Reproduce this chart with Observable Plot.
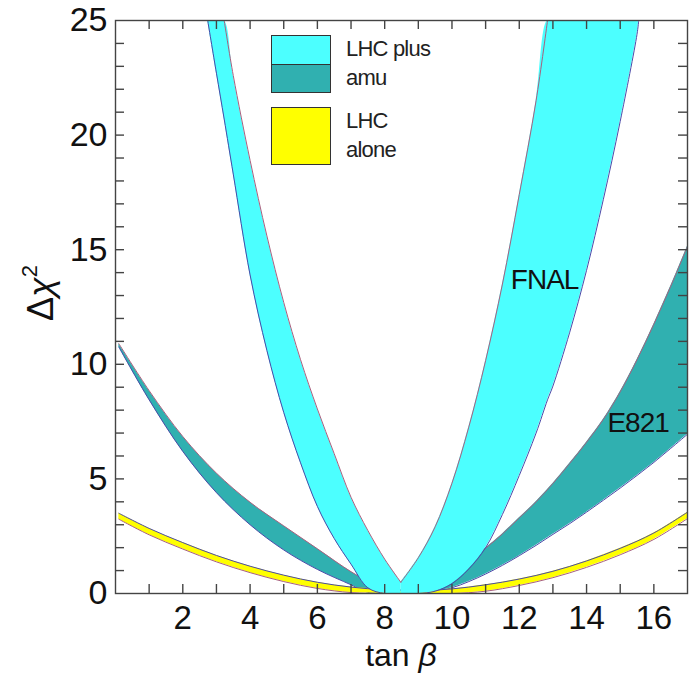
<!DOCTYPE html>
<html><head><meta charset="utf-8">
<script src="https://cdn.jsdelivr.net/npm/d3@7"></script>
<script src="https://cdn.jsdelivr.net/npm/@observablehq/plot@0.6"></script>
<style>
body{margin:0;background:#fff;}
#wrap{position:relative;width:696px;height:677px;font-family:"Liberation Sans",Arial,Helvetica,sans-serif;color:#111;}
.ov{position:absolute;white-space:nowrap;line-height:1;}
.box{position:absolute;box-sizing:border-box;border:1.5px solid #333;}
.lg{position:absolute;font-size:22px;letter-spacing:-0.8px;line-height:1;color:#222;white-space:nowrap;}
</style></head><body><div id="wrap"></div>
<script>
// ---- data ----
// LHC alone (yellow band)
const yellowX  = [0.1, 1, 2, 3, 4, 5, 6, 7, 8, 9, 10, 11, 12, 13, 14, 15, 16, 17];
const yellowLo = [3.24, 2.56, 1.94, 1.38, 0.91, 0.52, 0.22, 0.04, 0, 0, 0, 0.1, 0.35, 0.69, 1.14, 1.69, 2.36, 3.27];
const yellowHi = [3.5, 2.84, 2.22, 1.66, 1.19, 0.8, 0.49, 0.28, 0.16, 0.12, 0.2, 0.38, 0.63, 0.97, 1.42, 1.97, 2.64, 3.55];
// LHC plus amu, E821 (teal band)
const tealX  = [0.1, 1, 2, 3, 4, 5, 6, 7, 7.5, 8, 8.5, 9, 9.5, 10, 10.5, 11, 11.5, 12, 12.5, 13, 13.5, 14, 14.5, 15, 15.5, 16, 16.5, 17];
const tealLo = [10.75, 8.45, 6.2, 4.4, 3.0, 1.9, 1.05, 0.38, 0.05, 0, 0, 0, 0.08, 0.25, 0.52, 0.85, 1.23, 1.65, 2.1, 2.58, 3.05, 3.55, 4.07, 4.6, 5.15, 5.72, 6.33, 6.95];
const tealHi = [10.9, 8.85, 6.85, 5.25, 3.98, 2.95, 1.95, 0.95, 0.55, 0.28, 0.17, 0.25, 0.5, 0.95, 1.45, 1.98, 2.6, 3.3, 4.0, 4.8, 5.68, 6.6, 7.6, 8.8, 10.2, 11.75, 13.4, 15.15];
// LHC plus amu, FNAL (cyan band); 25 = top of the visible range
const cyanX  = [2.74, 3.0, 3.23, 3.5, 4.0, 4.5, 5.0, 5.5, 6.0, 6.5, 7.0, 7.5, 8.0, 8.48, 9.0, 9.5, 10.0, 10.5, 11.0, 11.5, 12.0, 12.5, 12.84, 13.0, 13.5, 14.0, 14.5, 15.0, 15.5, 15.55];
const cyanLo = [25, 22.7, 20.7, 18.3, 13.9, 10.6, 7.9, 5.7, 3.8, 2.4, 1.28, 0.25, 0, 0, 0, 0.1, 0.43, 1.07, 2.0, 3.45, 5.15, 7.0, 8.45, 9.05, 11.4, 14.1, 17.2, 20.6, 24.4, 25];
const cyanHi = [25, 25, 25, 22.6, 18.9, 15.6, 12.7, 10.2, 8.05, 6.1, 4.2, 2.75, 1.5, 0.49, 1.56, 2.91, 4.81, 7.26, 10.16, 13.5, 17.4, 21.5, 25, 25, 25, 25, 25, 25, 25, 25];
// in-plot labels
const annoText = ["FNAL", "E821"];
const annoX = [11.75, 14.62];
const annoY = [13.3, 7.05];
// ticks
const xTickValues = [1, 2, 3, 4, 5, 6, 7, 8, 9, 10, 11, 12, 13, 14, 15, 16];
const xTickLabels = [2, 4, 6, 8, 10, 12, 14, 16];
const yTickValues = [1, 2, 3, 4, 5, 6, 7, 8, 9, 10, 11, 12, 13, 14, 15, 16, 17, 18, 19, 20, 21, 22, 23, 24];
const yTickLabels = [0, 5, 10, 15, 20, 25];

// ---- styles ----
const CYAN = "#4cffff", TEAL = "#30b0b0", YELLOW = "#ffff00";
const PINK = "#a8607e", BLUE = "#4a4aa8", AXIS = "#444";
const curve = "catmull-rom";

const rows = (xs, lo, hi) => xs.map((x, i) => ({x, lo: lo[i], hi: hi[i]}));
const yellow = rows(yellowX, yellowLo, yellowHi);
const teal = rows(tealX, tealLo, tealHi);
// the FNAL band has a sharp V at its minimum: split into two sides sharing that point
const cyanAll = rows(cyanX, cyanLo, cyanHi);
const apex = d3.minIndex(cyanHi);
const cyan = [
  ...cyanAll.slice(0, apex + 1).map(d => ({...d, side: "L"})),
  ...cyanAll.slice(apex).map(d => ({...d, side: "R"}))
];
const cyanHiVisible = cyan.filter(d => {
  const i = cyanX.indexOf(d.x);
  return d.hi < 25 || cyanHi[i - 1] < 25 || cyanHi[i + 1] < 25;
});
const annos = annoText.map((t, i) => ({t, x: annoX[i], y: annoY[i]}));

const chart = Plot.plot({
  width: 696, height: 677,
  marginLeft: 115, marginRight: 9, marginTop: 20, marginBottom: 84,
  x: {domain: [0, 17], axis: null},
  y: {domain: [0, 25], axis: null},
  style: {fontFamily: '"Liberation Sans", Arial, Helvetica, sans-serif', background: "white", color: "#111", overflow: "visible"},
  marks: [
    Plot.areaY(teal, {x: "x", y1: "lo", y2: "hi", fill: TEAL, curve, clip: true}),
    Plot.line(teal, {x: "x", y: "hi", stroke: PINK, strokeWidth: 1, curve, clip: true}),
    Plot.line(teal, {x: "x", y: "lo", stroke: BLUE, strokeWidth: 1, curve, clip: true}),
    Plot.areaY(yellow, {x: "x", y1: "lo", y2: "hi", fill: YELLOW, curve, clip: true}),
    Plot.line(yellow, {x: "x", y: "hi", stroke: BLUE, strokeWidth: 1, curve, clip: true}),
    Plot.line(yellow, {x: "x", y: "lo", stroke: PINK, strokeWidth: 1, curve, clip: true}),
    Plot.areaY(cyan, {x: "x", y1: "lo", y2: "hi", z: "side", fill: CYAN, curve, clip: true}),
    Plot.line(cyan, {x: "x", y: "lo", z: "side", stroke: BLUE, strokeWidth: 1, curve, clip: true}),
    Plot.line(cyanHiVisible, {x: "x", y: "hi", z: "side", stroke: PINK, strokeWidth: 1, curve, clip: true}),
    Plot.text(annos, {x: "x", y: "y", text: "t", textAnchor: "start", lineAnchor: "bottom", fontSize: 28, fill: "#111"}),
    // inward ticks on all four sides
    Plot.ruleX(xTickValues, {x: d => d, insetTop: 564, stroke: AXIS, strokeWidth: 1.4}),
    Plot.ruleX(xTickValues, {x: d => d, insetBottom: 564, stroke: AXIS, strokeWidth: 1.4}),
    Plot.ruleY(yTickValues, {y: d => d, insetRight: 563, stroke: AXIS, strokeWidth: 1.4}),
    Plot.ruleY(yTickValues, {y: d => d, insetLeft: 563, stroke: AXIS, strokeWidth: 1.4}),
    Plot.text(yTickLabels, {y: d => d, text: d => String(d), frameAnchor: "left", textAnchor: "end", dx: -8, fontSize: 34, fill: "#111"}),
    Plot.text(xTickLabels, {x: d => d, text: d => String(d), frameAnchor: "bottom", lineAnchor: "top", dy: 12, fontSize: 33, fill: "#111"}),
    Plot.frame({stroke: AXIS, strokeWidth: 1.4})
  ]
});

const wrap = document.getElementById("wrap");
wrap.appendChild(chart);
d3.select(chart).selectAll("text").filter(function() { return annoText.includes(this.textContent); })
  .attr("letter-spacing", "-1px");

// axis titles
const xt = document.createElement("div");
xt.className = "ov";
xt.style.cssText = "left:401px;top:639px;font-size:32px;transform:translateX(-50%);";
xt.innerHTML = "tan <i>β</i>";
wrap.appendChild(xt);
const yt = document.createElement("div");
yt.className = "ov";
yt.style.cssText = "left:39px;top:293px;font-size:36px;transform:translate(-50%,-50%) rotate(-90deg);";
yt.innerHTML = "Δ<i>χ</i><sup style='font-size:22px;vertical-align:16px'>2</sup>";
wrap.appendChild(yt);

// legend (inside plot, top)
const legendItems = [
  {top: 35, fills: [CYAN, TEAL], lines: ["LHC plus", "amu"]},
  {top: 106.5, fills: [YELLOW], lines: ["LHC", "alone"]}
];
legendItems.forEach(item => {
  const box = document.createElement("div");
  box.className = "box";
  box.style.cssText = `left:271px;top:${item.top}px;width:60px;height:58px;display:flex;flex-direction:column;`;
  item.fills.forEach((f, j) => {
    const part = document.createElement("div");
    part.style.cssText = `flex:1;background:${f};` + (j > 0 ? "border-top:1.5px solid #333;" : "");
    box.appendChild(part);
  });
  wrap.appendChild(box);
  item.lines.forEach((t, j) => {
    const s = document.createElement("div");
    s.className = "lg";
    s.style.cssText = `left:346px;top:${item.top + 3 + j * 29}px;`;
    s.textContent = t;
    wrap.appendChild(s);
  });
});
</script></body></html>
